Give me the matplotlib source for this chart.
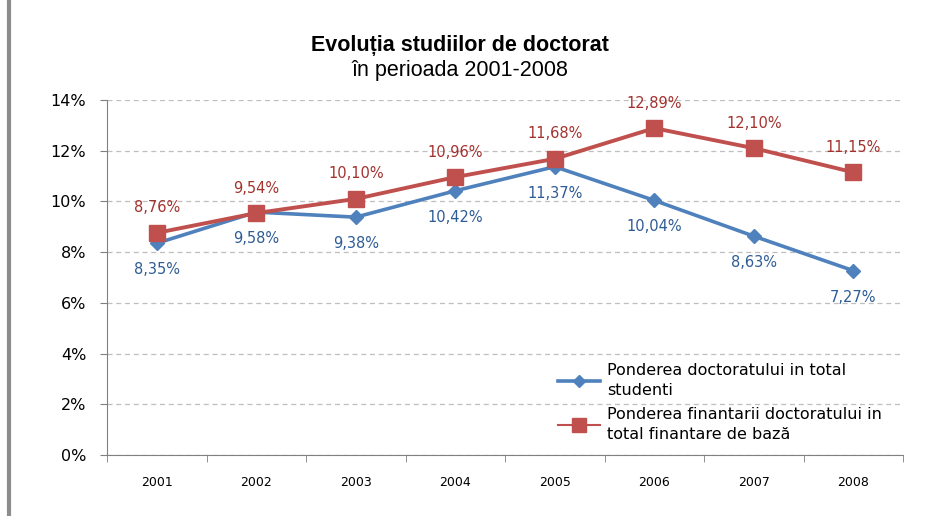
import matplotlib.pyplot as plt
from matplotlib.lines import Line2D
import numpy as np

plt.rcParams['font.family'] = ['DejaVu Sans']

years = ['2001', '2002', '2003', '2004', '2005', '2006', '2007', '2008']
studenti = [8.35, 9.58, 9.38, 10.42, 11.37, 10.04, 8.63, 7.27]
finantare = [8.76, 9.54, 10.10, 10.96, 11.68, 12.89, 12.10, 11.15]
yticks = [0, 2, 4, 6, 8, 10, 12, 14]

blue = '#4F81BD'
red = '#C0504D'
blue_txt = '#2E5C96'
red_txt = '#A3322F'

fig = plt.figure(figsize=(9.41, 5.16), dpi=100)
ax = fig.add_axes([0.1137, 0.1182, 0.846, 0.688])

x = np.arange(len(years))
ax.plot(x, studenti, color=blue, lw=2.6, marker='D', ms=7, zorder=3)
ax.plot(x, finantare, color=red, lw=2.8, marker='s', ms=12, zorder=4)

for i in range(len(years)):
    ax.annotate(f"{studenti[i]:.2f}%".replace('.', ','), (x[i], studenti[i]),
                xytext=(0, -19), textcoords='offset points', ha='center',
                va='center', color=blue_txt, fontsize=10.5)
    ax.annotate(f"{finantare[i]:.2f}%".replace('.', ','), (x[i], finantare[i]),
                xytext=(0, 18), textcoords='offset points', ha='center',
                va='center', color=red_txt, fontsize=10.5)

ax.set_xlim(-0.5, len(years) - 0.5)
ax.set_ylim(0, 14)
ax.set_yticks(yticks)
ax.set_yticklabels([f"{v}%" for v in yticks], fontsize=11.5)
ax.set_xticks(x)
ax.set_xticklabels(years, fontsize=9)
ax.set_xticks(np.arange(-0.5, len(years)), minor=True)
ax.tick_params(axis='x', which='major', length=0, pad=15)
ax.tick_params(axis='x', which='minor', length=5, color='#808080')
ax.tick_params(axis='y', length=5, color='#808080', pad=10)

ax.grid(axis='y', linestyle=(0, (4, 3)), color='#BFBFBF', lw=0.9)
ax.set_axisbelow(True)
for s in ['top', 'right']:
    ax.spines[s].set_visible(False)
for s in ['left', 'bottom']:
    ax.spines[s].set_color('#808080')

fig.text(0.489, 0.912, 'Evoluția studiilor de doctorat', ha='center',
         va='center', fontsize=15.5, fontweight='bold',
         family=['Liberation Sans', 'DejaVu Sans'])
fig.text(0.489, 0.864, 'în perioada 2001-2008', ha='center', va='center',
         fontsize=15.5, family=['Liberation Sans', 'DejaVu Sans'])

handles = [Line2D([], [], color=blue, lw=2.6, marker='D', ms=6),
           Line2D([], [], color=red, lw=1.5, marker='s', ms=10)]
labels = ['Ponderea doctoratului in total\nstudenti',
          'Ponderea finantarii doctoratului in\ntotal finantare de bază']
leg = ax.legend(handles, labels, loc='upper left', bbox_to_anchor=(0.553, 0.29),
                frameon=False, fontsize=11.5, handlelength=2.6, labelspacing=0.55,
                handletextpad=0.45, borderpad=0.2)
for t in leg.get_texts():
    t.set_linespacing(1.4)

fig.add_artist(Line2D([0.0096, 0.0096], [0, 1], color='#8C8C8C', lw=3,
                      transform=fig.transFigure))

fig.savefig('out.png', dpi=100)
